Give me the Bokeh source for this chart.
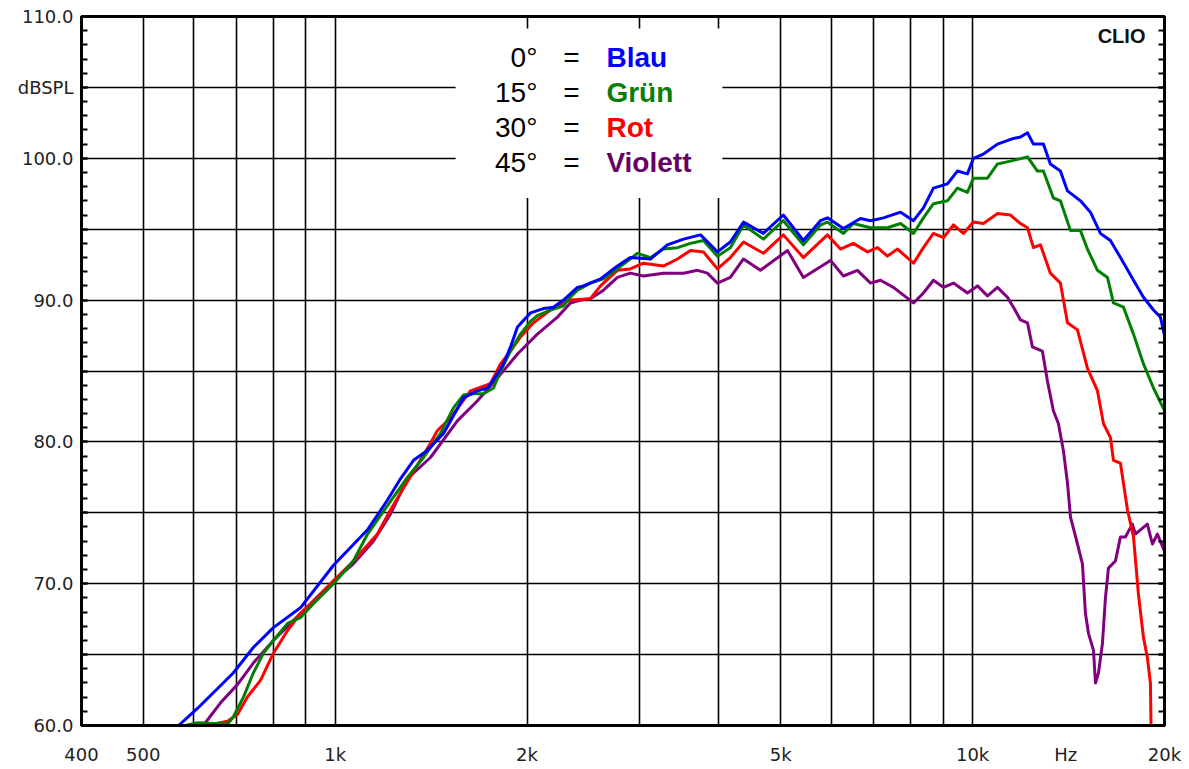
from bokeh.plotting import figure
from bokeh.models import FixedTicker, LinearAxis, BoxAnnotation, Label
from bokeh.embed import file_html
from bokeh.resources import INLINE

# Frequency response of a tweeter at four off-axis angles (CLIO measurement)
freq_0 = [568, 608, 692, 744, 800, 882, 994, 1124, 1208, 1266, 1327, 1395, 1479, 1589,
          1672, 1734, 1797, 1837, 1884, 1932, 2025, 2122, 2200, 2282, 2399, 2452, 2608,
          2772, 2904, 3124, 3320, 3519, 3742, 3978, 4168, 4371, 4696, 5047, 5427, 5771,
          5919, 6271, 6667, 6917, 7248, 7709, 8078, 8372, 8680, 9131, 9466, 9815, 10029,
          10398, 10939, 11589, 11888, 12193, 12457, 12913, 13243, 13732, 14087, 14764,
          15305, 15868, 16452, 17059, 17881, 18537, 19219, 19708, 20000]
spl_0 = [60.0, 61.2, 63.7, 65.5, 66.9, 68.3, 71.3, 73.8, 75.9, 77.4, 78.7, 79.4, 80.6, 83.1,
         83.6, 83.8, 84.8, 85.5, 86.7, 88.1, 89.1, 89.4, 89.5, 90.0, 90.9, 91.0, 91.5,
         92.4, 93.0, 92.9, 93.9, 94.3, 94.6, 93.4, 94.1, 95.5, 94.7, 96.0, 94.2, 95.6,
         95.8, 95.05, 95.75, 95.6, 95.8, 96.2, 95.6, 96.5, 97.9, 98.2, 99.1, 98.9, 100.0,
         100.3, 101.0, 101.4, 101.5, 101.8, 101.0, 101.0, 99.6, 99.1, 97.7, 97.0,
         96.2, 94.7, 94.2, 93.0, 91.4, 90.2, 89.3, 88.8, 87.5]

freq_15 = [582, 608, 678, 692, 718, 744, 772, 800, 842, 882, 925, 994, 1068, 1124, 1298,
           1376, 1463, 1533, 1589, 1648, 1709, 1772, 1817, 1884, 1953, 2025, 2076, 2176,
           2282, 2339, 2399, 2514, 2636, 2772, 2980, 3124, 3273, 3444, 3609, 3782, 3978,
           4168, 4371, 4696, 5047, 5427, 5771, 5919, 6271, 6500, 6917, 7351, 7709, 8078,
           8372, 8680, 9131, 9466, 9815, 10029, 10553, 10939, 11465, 12193, 12637, 12913,
           13388, 13732, 14241, 14764, 15140, 15698, 16277, 16633, 17245, 17881, 18537,
           19219, 20000]
spl_15 = [60.0, 60.2, 60.1, 60.6, 62.0, 63.7, 65.1, 66.0, 67.2, 67.6, 68.6, 70.0, 71.6, 73.5, 77.5,
          78.9, 80.6, 82.4, 83.3, 83.4, 83.4, 83.8, 85.0, 86.4, 87.6, 88.5, 88.9, 89.3,
          89.6, 90.2, 90.7, 91.2, 91.5, 92.2, 93.3, 93.0, 93.6, 93.7, 94.0, 94.2, 93.1,
          93.7, 95.3, 94.3, 95.6, 93.9, 95.3, 95.5, 94.7, 95.4, 95.1, 95.1, 95.4, 94.7,
          95.8, 96.8, 97.0, 97.9, 97.6, 98.6, 98.6, 99.6, 99.8, 100.1, 99.1, 99.1,
          97.2, 97.0, 94.9, 94.9, 93.6, 92.1, 91.6, 89.8, 89.5, 87.6, 85.5,
          83.8, 82.2]

freq_30 = [628, 678, 703, 728, 764, 800, 842, 882, 938, 994, 1068, 1165, 1221, 1411, 1447,
           1517, 1630, 1752, 1817, 1884, 1953, 2047, 2176, 2282, 2339, 2514, 2608, 2772,
           2904, 3045, 3273, 3444, 3609, 3782, 3978, 4168, 4371, 4696, 5047, 5427, 5919,
           6203, 6500, 6841, 7093, 7351, 7624, 8078, 8372, 8680, 8998, 9332, 9673, 10029,
           10398, 10939, 11465, 11888, 12193, 12457, 12776, 13243, 13732, 14087, 14604,
           15140, 15698, 16041, 16452, 16633, 17059, 17497, 17881, 18200, 18537, 18800,
           19008, 19050]
spl_30 = [60.0, 60.3, 60.8, 62.0, 63.2, 65.1, 66.7, 67.9, 69.0, 70.2, 71.6, 73.5, 75.2, 79.9, 80.8,
          81.7, 83.6, 84.1, 85.5, 86.4, 87.4, 88.4, 89.3, 89.8, 90.0, 90.1, 91.0, 92.1,
          92.2, 92.6, 92.4, 92.9, 93.5, 93.4, 92.2, 93.0, 94.1, 93.3, 94.6, 93.0, 94.6,
          93.6, 94.0, 93.4, 93.7, 93.1, 93.6, 92.6, 93.7, 94.7, 94.4, 95.3, 94.7, 95.5,
          95.4, 96.1, 96.0, 95.4, 95.1, 93.7, 93.9, 91.9, 91.2, 88.4, 87.9,
          85.2, 83.6, 81.3, 80.3, 78.7, 78.5, 75.2, 73.3, 69.3, 66.2, 64.8,
          63.0, 60.0]

freq_45 = [621, 661, 703, 744, 800, 851, 892, 949, 994, 1068, 1148, 1221, 1298, 1411, 1556,
           1672, 1797, 1932, 2076, 2232, 2339, 2425, 2514, 2636, 2772, 2904, 3045, 3273,
           3519, 3702, 3836, 3978, 4168, 4371, 4647, 5124, 5427, 5985, 6271, 6597, 6917,
           7169, 7512, 8078, 8372, 8680, 8998, 9332, 9815, 10177, 10553, 10939, 11340,
           11589, 11888, 12193, 12411, 12867, 13103, 13388, 13632, 13880, 14087, 14241,
           14604, 14869, 15032, 15197, 15475, 15586, 15756, 15985, 16158, 16333, 16751,
           17059, 17365, 17808, 18004, 18334, 18800, 19145, 19493, 20000]
spl_45 = [60.0, 61.6, 62.9, 64.4, 66.0, 67.2, 68.1, 69.3, 70.2, 71.4, 73.0, 74.9, 77.4, 78.9, 81.5,
          82.9, 84.5, 86.2, 87.6, 88.8, 89.8, 90.0, 90.1, 90.7, 91.6, 91.9, 91.7, 91.9,
          91.9, 92.1, 91.9, 91.2, 91.6, 92.9, 92.1, 93.5, 91.6, 92.8, 91.7, 92.1, 91.2,
          91.4, 90.9, 89.8, 90.5, 91.4, 90.9, 91.2, 90.5, 91.0, 90.3, 90.9, 90.2,
          89.5, 88.6, 88.4, 86.7, 86.4, 84.3, 82.2, 81.3, 79.4, 77.1, 74.7,
          72.8, 71.4, 67.9, 66.5, 65.3, 63.0, 63.7, 65.8, 69.0, 71.1, 71.6,
          73.3, 73.3, 74.2, 73.5, 73.8, 74.2, 72.8, 73.5, 72.3]

angles = ["0°", "15°", "30°", "45°"]
names = ["Blau", "Grün", "Rot", "Violett"]
curve_colors = ["#0000ff", "#008000", "#ff0000", "#800080"]
name_colors = ["#0000ff", "#0a7d0a", "#ff0000", "#660066"]

x_ticks = [400, 500, 1000, 2000, 5000, 10000, 14000, 20000]
x_labels = ["400", "500", "1k", "2k", "5k", "10k", "Hz", "20k"]
x_grid = [500, 600, 700, 800, 900, 1000, 2000, 3000, 4000, 5000, 6000, 7000, 8000, 9000, 10000]
y_ticks = list(range(60, 111, 5))
y_labels = ["60.0", "", "70.0", "", "80.0", "", "90.0", "", "100.0", "dBSPL", "110.0"]

AXIS_FONT = "DejaVu Sans"
AXIS_SIZE = "18px"

p = figure(width=1189, height=769, x_axis_type="log", x_range=(400, 20000), y_range=(60, 110),
           output_backend="svg", toolbar_location=None,
           min_border_left=81, min_border_right=25, min_border_top=16, min_border_bottom=44)
p.background_fill_color = "white"
p.border_fill_color = "white"
p.outline_line_color = "black"
p.outline_line_width = 3

# bottom axis: frequency labels, no tick marks
xa = p.xaxis[0]
xa.ticker = FixedTicker(ticks=x_ticks)
xa.major_label_overrides = {t: s for t, s in zip(x_ticks, x_labels)}
xa.major_tick_in = 0
xa.major_tick_out = 0
xa.minor_tick_in = 0
xa.minor_tick_out = 0
xa.axis_line_width = 3
xa.axis_line_color = "black"
xa.major_label_text_font = AXIS_FONT
xa.major_label_text_font_size = AXIS_SIZE
xa.major_label_text_color = "#222222"
xa.major_label_standoff = 18

# left axis: level labels with inward 1 dB ticks
ya = p.yaxis[0]
ya.ticker = FixedTicker(ticks=y_ticks, minor_ticks=list(range(60, 111)))
ya.major_label_overrides = {t: s for t, s in zip(y_ticks, y_labels)}
ya.major_tick_in = 6
ya.major_tick_out = 0
ya.minor_tick_in = 6
ya.minor_tick_out = 0
ya.major_tick_line_width = 2
ya.minor_tick_line_width = 2
ya.minor_tick_line_color = "black"
ya.axis_line_width = 3
ya.axis_line_color = "black"
ya.major_label_text_font = AXIS_FONT
ya.major_label_text_font_size = AXIS_SIZE
ya.major_label_text_color = "#222222"
ya.major_label_standoff = 8

# right axis: ticks only
ra = LinearAxis(ticker=FixedTicker(ticks=y_ticks, minor_ticks=list(range(60, 111))),
                major_label_overrides={t: "" for t in y_ticks},
                major_tick_in=6, major_tick_out=0, minor_tick_in=6, minor_tick_out=0,
                major_tick_line_width=2, minor_tick_line_width=2,
                minor_tick_line_color="black",
                axis_line_width=3, axis_line_color="black")
p.add_layout(ra, "right")

# grid
p.xgrid.ticker = FixedTicker(ticks=x_grid)
p.ygrid.ticker = FixedTicker(ticks=y_ticks[1:-1])
for g in (p.xgrid[0], p.ygrid[0]):
    g.grid_line_color = "black"
    g.grid_line_width = 1.6
    g.grid_line_alpha = 1.0

# curves (45° first so the on-axis response sits on top)
series = [(freq_45, spl_45, curve_colors[3]), (freq_30, spl_30, curve_colors[2]),
          (freq_15, spl_15, curve_colors[1]), (freq_0, spl_0, curve_colors[0])]
for fx, sy, c in series:
    p.line(fx, sy, line_color=c, line_width=3, line_join="round")

# key panel
p.add_layout(BoxAnnotation(left=1545, right=4050, bottom=97.2, top=109.15,
                           fill_color="white", fill_alpha=1.0, line_alpha=0.0))
row_y = [107.10, 104.64, 102.17, 99.70]
for a, n, c, yy in zip(angles, names, name_colors, row_y):
    p.add_layout(Label(x=2076, y=yy, text=a, text_align="right", text_baseline="alphabetic",
                       text_font="Liberation Sans", text_font_size="28px", text_color="black"))
    p.add_layout(Label(x=2347, y=yy, text="=", text_align="center", text_baseline="alphabetic",
                       text_font="Liberation Sans", text_font_size="28px", text_color="black"))
    p.add_layout(Label(x=2664, y=yy, text=n, text_align="left", text_baseline="alphabetic",
                       text_font="Liberation Sans", text_font_size="28px",
                       text_font_style="bold", text_color=c))

p.add_layout(Label(x=18670, y=108.65, text="CLIO", text_align="right", text_baseline="alphabetic",
                   text_font="Liberation Sans", text_font_size="20px",
                   text_font_style="bold", text_color="#111111"))

open("out.html", "w").write(file_html(p, INLINE))
